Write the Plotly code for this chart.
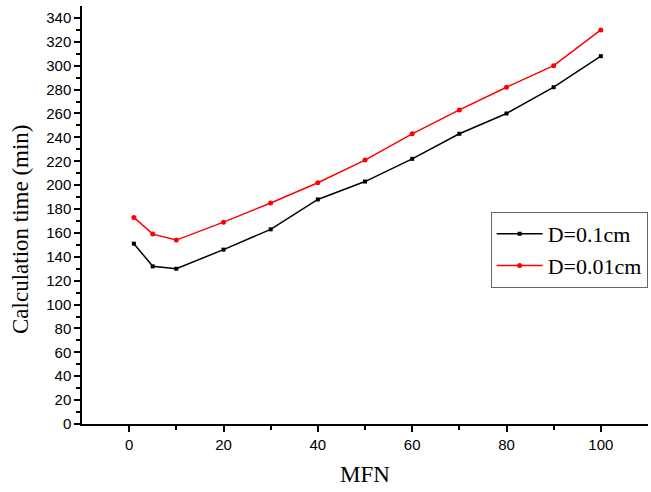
import plotly.graph_objects as go

mfn = [1, 5, 10, 20, 30, 40, 50, 60, 70, 80, 90, 100]
time_d01 = [151, 132, 130, 146, 163, 188, 203, 222, 243, 260, 282, 308]
time_d001 = [173, 159, 154, 169, 185, 202, 221, 243, 263, 282, 300, 330]

serif = "Liberation Serif, Times New Roman, serif"
sans = "Liberation Sans, Arial, sans-serif"

fig = go.Figure()
fig.add_trace(go.Scatter(x=mfn, y=time_d01, mode="lines+markers", name="D=0.1cm",
                         line=dict(color="black", width=1.5),
                         marker=dict(symbol="square", size=4, color="black")))
fig.add_trace(go.Scatter(x=mfn, y=time_d001, mode="lines+markers", name="D=0.01cm",
                         line=dict(color="#ff0000", width=1.5),
                         marker=dict(symbol="circle", size=5, color="#ff0000")))

fig.update_layout(
    width=651, height=492,
    margin=dict(l=82, r=3, t=6, b=68),
    plot_bgcolor="white", paper_bgcolor="white",
    showlegend=True,
    legend=dict(x=0.722, y=0.507, xanchor="left", yanchor="top",
                bordercolor="#666666", borderwidth=1, bgcolor="white",
                font=dict(family=serif, size=22, color="black"),
                itemwidth=46, tracegroupgap=0),
    xaxis=dict(range=[-10, 110], tickmode="array", tickvals=[0, 20, 40, 60, 80, 100],
               ticks="outside", ticklen=6, tickwidth=1.5, tickcolor="black",
               minor=dict(tickvals=[10, 30, 50, 70, 90], ticks="outside", ticklen=4, tickwidth=1.5, tickcolor="black"),
               showline=True, linecolor="black", linewidth=1.5, showgrid=False, zeroline=False,
               automargin=False,
               tickfont=dict(family=sans, size=15, color="black")),
    yaxis=dict(range=[0, 350], tickmode="array", tickvals=list(range(0, 341, 20)),
               ticks="outside", ticklen=6, tickwidth=1.5, tickcolor="black",
               minor=dict(tickvals=list(range(10, 341, 20)), ticks="outside", ticklen=4, tickwidth=1.5, tickcolor="black"),
               showline=True, linecolor="black", linewidth=1.5, showgrid=False, zeroline=False,
               automargin=False,
               tickfont=dict(family=sans, size=15, color="black")),
    annotations=[
        dict(text="MFN", xref="paper", yref="paper", x=0.5, y=0, xanchor="center", yanchor="middle",
             yshift=-50, showarrow=False, font=dict(family=serif, size=23, color="black")),
        dict(text="Calculation time (min)", xref="paper", yref="paper", x=0, y=0.5,
             xanchor="center", yanchor="middle", xshift=-62, yshift=-14, textangle=-90,
             showarrow=False, font=dict(family=serif, size=23, color="black")),
    ],
)

fig.write_html("out.html", config={"displayModeBar": False},
               post_script="document.body.style.margin='0';document.body.style.overflow='hidden';")
